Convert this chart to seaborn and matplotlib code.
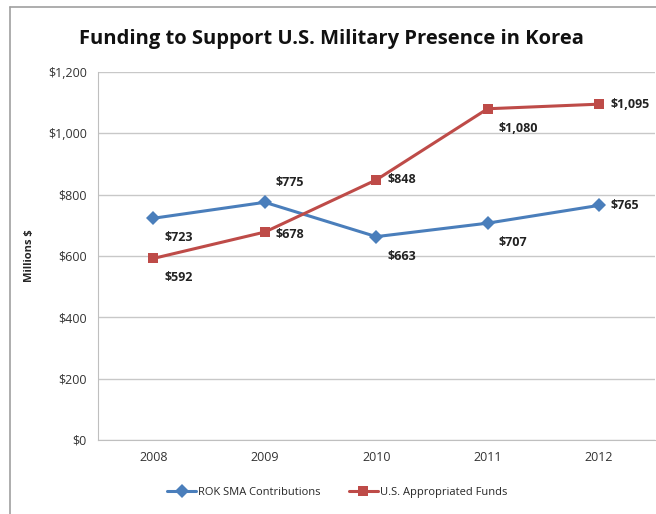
import pandas as pd
import matplotlib.pyplot as plt
import seaborn as sns
from matplotlib.lines import Line2D

years = ["2008", "2009", "2010", "2011", "2012"]
rok_sma = [723, 775, 663, 707, 765]
us_funds = [592, 678, 848, 1080, 1095]
yticks = [0, 200, 400, 600, 800, 1000, 1200]

df = pd.DataFrame({
    "Year": years * 2,
    "Value": rok_sma + us_funds,
    "Series": ["ROK SMA Contributions"] * 5 + ["U.S. Appropriated Funds"] * 5,
})

sns.set_style("white")
plt.rcParams["font.family"] = ["Open Sans", "DejaVu Sans"]

blue = "#4A7EBB"
red = "#BE4B48"

fig = plt.figure(figsize=(6.56, 5.14), dpi=100)
ax = fig.add_axes([0.149, 0.144, 0.849, 0.716])

sns.lineplot(data=df, x="Year", y="Value", hue="Series", style="Series",
             markers={"ROK SMA Contributions": "D", "U.S. Appropriated Funds": "s"},
             dashes=False, palette=[blue, red], linewidth=2.2,
             markersize=7, markeredgewidth=0, ax=ax, sort=False)

ax.set_xlim(-0.5, 4.5)
ax.set_ylim(0, 1200)
ax.set_yticks(yticks)
ax.set_yticklabels([f"${v:,}" for v in yticks])
ax.yaxis.grid(True, color="#C8C8C8", linewidth=1)
ax.set_axisbelow(True)
for s in ["top", "right"]:
    ax.spines[s].set_visible(False)
ax.spines["left"].set_color("#BFBFBF")
ax.spines["bottom"].set_color("#BFBFBF")
ax.tick_params(axis="both", length=0, labelsize=9, colors="#333333", pad=8)
ax.set_xlabel("")
ax.set_ylabel("Millions $", fontsize=8, fontweight="bold")
ax.yaxis.set_label_coords(-0.113, 0.5)

# data labels
rok_off = [(8, -14), (8, 14), (8, -14), (8, -14), (8, 0)]
us_off = [(8, -14), (8, -2), (8, 0), (8, -14), (8, 0)]
for i, (v, off) in enumerate(zip(rok_sma, rok_off)):
    ax.annotate(f"${v:,}", (i, v), xytext=off, textcoords="offset points",
                fontsize=9, fontweight="bold", color="#222222", va="center")
for i, (v, off) in enumerate(zip(us_funds, us_off)):
    ax.annotate(f"${v:,}", (i, v), xytext=off, textcoords="offset points",
                fontsize=9, fontweight="bold", color="#222222", va="center")

leg = ax.legend(loc="upper center", bbox_to_anchor=(0.43, -0.1), ncol=2,
                frameon=False, fontsize=8, handlelength=2.6, columnspacing=2.5,
                handletextpad=0.2)

fig.text(0.505, 0.925, "Funding to Support U.S. Military Presence in Korea",
         ha="center", va="center", fontsize=14.5, fontweight="bold", color="#111111")

# outer chart frame
fig.add_artist(Line2D([10 / 656, 10 / 656], [0, 1 - 7 / 514], color="#A0A0A0", lw=1.2))
fig.add_artist(Line2D([10 / 656, 1], [1 - 7 / 514, 1 - 7 / 514], color="#A0A0A0", lw=1.2))

fig.savefig("out.png", dpi=100)
